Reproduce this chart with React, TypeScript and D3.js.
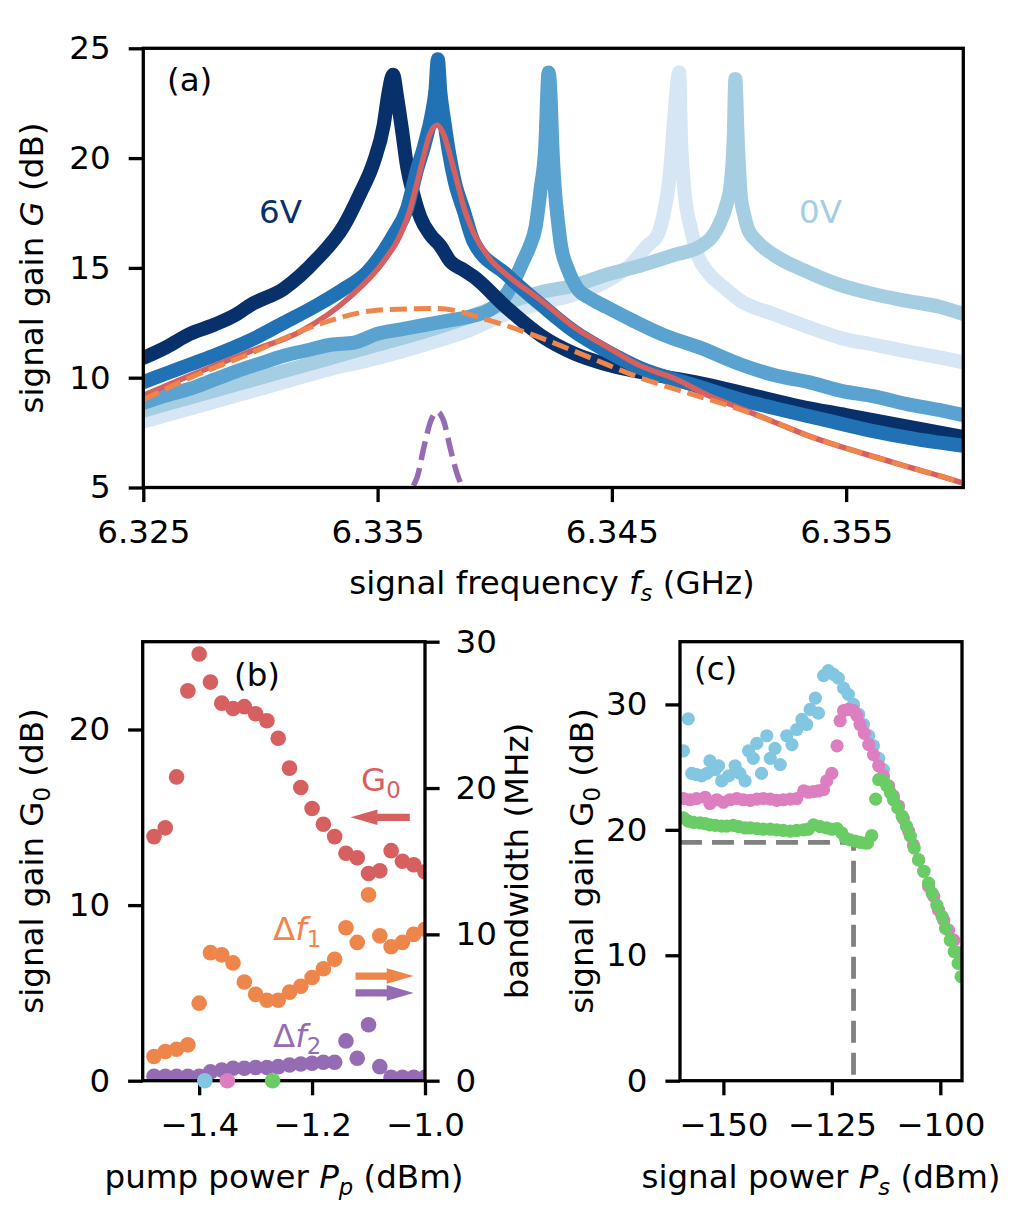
import React, { useEffect, useRef } from 'react';
import * as d3 from 'd3';

// ---- panel (a): signal gain vs signal frequency, five flux-bias settings ----
// navy = 6V ... light = 0V label colour
const freqNavy = [6.325, 6.326, 6.327, 6.328, 6.329, 6.32956, 6.331, 6.33241, 6.33355, 6.33426, 6.33483, 6.33526, 6.33547, 6.33566, 6.33583, 6.33604, 6.33626, 6.33654, 6.33683, 6.33726, 6.33768, 6.3381, 6.33868, 6.3391, 6.3405, 6.342, 6.3434, 6.3448, 6.347, 6.349, 6.351, 6.353, 6.355, 6.357, 6.359, 6.360];
const gainNavy = [10.9, 11.4, 12.0, 12.4, 12.9, 13.3, 14.05, 15.4, 16.9, 18.4, 19.8, 21.5, 23.0, 23.8, 22.8, 21.3, 19.6, 18.3, 17.3, 16.5, 16.0, 15.3, 14.9, 14.6, 13.2, 11.9, 11.1, 10.6, 10.1, 9.7, 9.2, 8.7, 8.3, 7.9, 7.5, 7.3];

const freqBlue = [6.325, 6.326, 6.327, 6.328, 6.32956, 6.331, 6.33241, 6.3335, 6.33455, 6.33568, 6.33626, 6.33669, 6.337, 6.33733, 6.33747, 6.33757, 6.33768, 6.33783, 6.33804, 6.3383, 6.33868, 6.3391, 6.3405, 6.342, 6.3434, 6.3448, 6.3462, 6.3484, 6.3505, 6.352, 6.354, 6.356, 6.358, 6.360];
const gainBlue = [9.8, 10.2, 10.6, 11.0, 11.7, 12.5, 13.3, 14.0, 14.8, 16.5, 17.7, 19.5, 20.6, 22.1, 23.1, 24.5, 23.0, 21.8, 20.3, 18.9, 17.6, 16.2, 14.7, 13.3, 12.1, 11.2, 10.45, 9.7, 9.0, 8.6, 8.1, 7.6, 7.2, 6.9];

const freqMid = [6.325, 6.326, 6.327, 6.328, 6.329, 6.330, 6.331, 6.332, 6.333, 6.334, 6.335, 6.336, 6.337, 6.338, 6.339, 6.3398, 6.3405, 6.341, 6.34125, 6.3415, 6.34175, 6.34196, 6.34215, 6.3423, 6.3424, 6.34245, 6.34255, 6.3427, 6.34283, 6.3431, 6.3435, 6.3441, 6.3448, 6.3459, 6.3472, 6.3488, 6.3505, 6.352, 6.3534, 6.3548, 6.3562, 6.3576, 6.3591, 6.360];
const gainMid = [8.85, 9.2, 9.5, 9.9, 10.3, 10.65, 11.0, 11.25, 11.5, 11.6, 12.0, 12.2, 12.4, 12.6, 12.8, 13.1, 13.8, 14.8, 15.4, 16.0, 16.9, 18.6, 20.4, 23.9, 22.4, 20.8, 18.8, 17.1, 16.0, 15.0, 14.1, 13.6, 13.2, 12.6, 11.95, 11.35, 10.6, 10.1, 9.8, 9.4, 9.15, 8.8, 8.5, 8.3];

const freqLight = [6.325, 6.327, 6.329, 6.331, 6.333, 6.335, 6.337, 6.339, 6.3405, 6.342, 6.3434, 6.3448, 6.3462, 6.3477, 6.3488, 6.3495, 6.34987, 6.35008, 6.3502, 6.35027, 6.35037, 6.3505, 6.35065, 6.3508, 6.3512, 6.3519, 6.3534, 6.3548, 6.3562, 6.3576, 6.3591, 6.360];
const gainLight = [8.5, 9.1, 9.7, 10.3, 10.9, 11.5, 12.1, 12.8, 13.4, 13.9, 14.2, 14.7, 15.1, 15.6, 16.0, 16.8, 17.8, 18.9, 20.9, 23.6, 20.9, 18.3, 17.4, 16.8, 16.2, 15.6, 14.8, 14.2, 13.8, 13.5, 13.2, 12.9];

const freqPale = [6.325, 6.327, 6.329, 6.331, 6.333, 6.335, 6.337, 6.339, 6.3405, 6.342, 6.3434, 6.3448, 6.34595, 6.3465, 6.34695, 6.3472, 6.34745, 6.34766, 6.34787, 6.34795, 6.34809, 6.34837, 6.34866, 6.3491, 6.3498, 6.3505, 6.3519, 6.3534, 6.3548, 6.3562, 6.3576, 6.3591, 6.360];
const gainPale = [8.0, 8.6, 9.2, 9.8, 10.4, 10.9, 11.5, 12.2, 12.9, 13.4, 13.8, 14.4, 15.3, 16.0, 16.5, 17.4, 19.0, 21.8, 23.9, 20.9, 18.6, 16.8, 15.6, 14.8, 14.1, 13.5, 12.9, 12.3, 11.8, 11.5, 11.2, 10.9, 10.7];

// fits
const freqFit = [6.325, 6.327, 6.32956, 6.3317, 6.33384, 6.33526, 6.33597, 6.3364, 6.33669, 6.33697, 6.3372, 6.33754, 6.33785, 6.3381, 6.3384, 6.3387, 6.3391, 6.3398, 6.3405, 6.342, 6.3434, 6.3448, 6.3462, 6.3477, 6.3491, 6.3505, 6.352, 6.3534, 6.3548, 6.3562, 6.3576, 6.3591, 6.360];
const gainFit = [9.2, 10.1, 11.2, 12.1, 13.7, 15.3, 16.5, 17.7, 18.9, 20.1, 21.0, 21.5, 21.0, 20.1, 18.9, 17.7, 16.6, 15.4, 14.7, 13.5, 12.3, 11.4, 10.55, 9.95, 9.2, 8.6, 7.95, 7.35, 6.85, 6.4, 5.95, 5.5, 5.2];

const freqBroad = [6.325, 6.327, 6.32956, 6.33241, 6.33526, 6.33754, 6.3398, 6.342, 6.3441, 6.3462, 6.3484, 6.3505, 6.352, 6.3534, 6.3548, 6.3562, 6.3576, 6.3591, 6.360];
const gainBroad = [9.0, 10.0, 11.1, 12.4, 13.1, 13.15, 12.6, 11.8, 10.9, 10.0, 9.25, 8.55, 7.95, 7.35, 6.85, 6.4, 5.95, 5.5, 5.2];

const freqNarrow = [6.3362, 6.33657, 6.33669, 6.33697, 6.33726, 6.33754, 6.33783, 6.3381, 6.3384, 6.33854, 6.3389];
const gainNarrow = [3.9, 5.17, 5.47, 6.8, 8.0, 8.45, 8.0, 6.8, 5.6, 5.2, 3.9];

// ---- panel (b): vs pump power ----
const pumpPower = [-1.48, -1.46, -1.44, -1.42, -1.40, -1.38, -1.36, -1.34, -1.32, -1.30, -1.28, -1.26, -1.24, -1.22, -1.20, -1.18, -1.16, -1.14, -1.12, -1.10, -1.08, -1.06, -1.04, -1.02, -1.00];
const gainG0 = [13.9, 14.4, 17.3, 22.2, 24.3, 22.7, 21.5, 21.2, 21.3, 20.9, 20.5, 19.5, 17.8, 16.7, 15.5, 14.6, 13.9, 12.95, 12.7, 11.8, 11.95, 13.1, 12.5, 12.3, 11.9];
const bandwidth1 = [1.65, 2.0, 2.15, 2.45, 5.3, 8.75, 8.6, 8.05, 6.75, 5.9, 5.5, 5.5, 6.05, 6.45, 7.05, 7.65, 8.3, 10.45, 9.45, 12.7, 9.9, 9.15, 9.45, 10.0, 10.35];
const bandwidth2 = [0.3, 0.3, 0.3, 0.3, 0.3, 0.6, 0.73, 0.85, 0.85, 0.9, 0.9, 0.96, 1.07, 1.14, 1.19, 1.26, 1.26, 2.72, 1.53, 3.82, 0.96, 0.23, 0.23, 0.23, 0.23];
const pumpMarks = [-1.39, -1.35, -1.27];

// ---- panel (c): vs signal power, one series per marked pump power ----
const sigPowBlue = [-159.2, -158.1, -157.3, -156.2, -155.0, -153.8, -153.1, -151.9, -151.1, -150.4, -148.8, -147.3, -146.2, -145.0, -144.2, -143.1, -142.3, -141.2, -140.0, -139.2, -138.1, -136.9, -135.4, -134.2, -133.1, -131.9, -130.8, -130.0, -128.8, -128.1, -126.9, -125.8, -124.6, -123.5, -122.3, -121.2, -120.0, -118.8, -117.7, -116.5, -115.4, -114.2, -113.1];
const gainCBlue = [26.3, 28.85, 24.5, 24.4, 24.3, 24.5, 25.5, 24.8, 25.1, 23.9, 24.3, 25.1, 24.5, 23.9, 26.3, 25.7, 26.9, 24.5, 27.5, 25.7, 26.5, 25.2, 27.5, 26.8, 28.0, 28.8, 28.4, 29.6, 30.5, 29.3, 32.3, 32.7, 32.4, 32.1, 31.3, 30.8, 30.0, 29.2, 28.4, 27.5, 26.7, 25.7, 24.8];
const sigPowPink = [-159.2, -157.7, -156.2, -154.2, -153.1, -151.5, -150.0, -148.5, -146.9, -145.4, -143.8, -142.3, -140.8, -139.2, -137.7, -136.2, -134.6, -133.1, -131.5, -130.4, -129.2, -128.1, -126.9, -126.2, -125.0, -123.8, -123.1, -122.3, -121.2, -120.0, -119.2, -118.5, -117.5, -116.5, -115.4, -114.2, -113.1, -111.9, -110.8, -109.6, -108.5, -107.3, -106.2, -105.0, -103.8, -102.7, -101.5, -100.4, -99.2, -98.1, -96.9, -95.9, -95.0];
const gainCPink = [22.5, 22.4, 22.5, 22.6, 22.1, 22.4, 22.2, 22.4, 22.5, 22.4, 22.35, 22.45, 22.5, 22.45, 22.35, 22.4, 22.45, 22.5, 23.1, 23.0, 23.05, 23.1, 23.2, 23.9, 24.5, 26.7, 28.7, 29.5, 29.6, 29.5, 29.1, 28.4, 27.7, 26.8, 26.0, 25.1, 24.3, 23.5, 22.7, 21.9, 20.9, 19.9, 18.8, 17.6, 16.7, 15.5, 14.7, 13.6, 12.8, 12.0, 11.2, 10.2, 9.4];
const sigPowGreen = [-159.2, -158.1, -156.9, -155.4, -154.2, -153.1, -151.9, -150.4, -149.2, -147.7, -146.5, -145.0, -143.8, -142.3, -140.8, -139.2, -137.7, -136.2, -134.6, -133.1, -131.5, -130.4, -129.2, -127.7, -126.2, -125.0, -123.8, -122.7, -121.9, -120.8, -119.6, -118.5, -117.3, -116.8, -115.8, -114.9, -114.2, -113.1, -112.3, -111.5, -110.8, -109.8, -108.8, -107.8, -106.9, -106.0, -105.0, -103.8, -102.7, -101.9, -100.8, -99.6, -98.8, -97.7, -96.8, -95.9, -95.2];
const gainCGreen = [20.95, 20.7, 20.6, 20.55, 20.5, 20.4, 20.35, 20.3, 20.3, 20.35, 20.25, 20.15, 20.15, 20.1, 20.05, 20.05, 20.0, 19.95, 19.9, 19.95, 20.0, 20.05, 20.4, 20.25, 20.15, 20.05, 20.1, 19.75, 19.35, 19.2, 19.1, 19.0, 18.95, 18.95, 19.55, 22.45, 24.0, 23.9, 23.5, 22.95, 22.4, 21.75, 21.1, 20.3, 19.5, 18.55, 17.6, 16.7, 15.75, 14.95, 14.0, 13.1, 12.15, 11.2, 10.3, 9.35, 8.3];
const thresholdGain = 19;
const thresholdPower = -120;

const FONT = "'DejaVu Sans', sans-serif";
const FS = 32.5;
const LW = 3.3;
const TICK = 14.6;
const C = {
  navy: '#08306b', blue: '#2171b5', mid: '#5aa2cf', light: '#a6cee3', pale: '#d6e6f4',
  red: '#d65f5f', orange: '#ee854a', purple: '#956cb4',
  sky: '#82c6e2', pink: '#dc7ec0', green: '#6acc64', gray: '#808080',
};

type Part = { t: string; it?: boolean; sub?: boolean };

function rich(g: any, x: number, y: number, parts: Part[], fill = '#000', anchor = 'start', rotate = 0) {
  const t = g.append('text')
    .attr('font-family', FONT).attr('font-size', FS).attr('fill', fill)
    .attr('text-anchor', anchor).style('white-space', 'pre')
    .attr('transform', `translate(${x},${y})${rotate ? ` rotate(${rotate})` : ''}`);
  let down = false;
  parts.forEach(p => {
    const s = t.append('tspan').text(p.t);
    if (p.it) s.attr('font-style', 'italic');
    if (p.sub) {
      s.attr('font-size', FS * 0.7);
      if (!down) { s.attr('dy', 7); down = true; }
    } else if (down) { s.attr('dy', -7); down = false; }
  });
}

function axis(g: any, ax: any, tr: string) {
  const a = g.append('g').attr('transform', tr).call(ax);
  a.attr('font-size', FS).attr('font-family', FONT);
  a.select('.domain').remove();
  a.selectAll('.tick line').attr('stroke', '#000').attr('stroke-width', LW);
  a.selectAll('.tick text').attr('fill', '#000');
  return a;
}

function frame(g: any, x0: number, x1: number, y0: number, y1: number) {
  g.append('rect').attr('x', x0).attr('y', y0).attr('width', x1 - x0).attr('height', y1 - y0)
    .attr('fill', 'none').attr('stroke', '#000').attr('stroke-width', LW);
}

function clip(svg: any, id: string, x0: number, x1: number, y0: number, y1: number) {
  svg.append('defs').append('clipPath').attr('id', id).append('rect')
    .attr('x', x0).attr('y', y0).attr('width', x1 - x0).attr('height', y1 - y0);
  return svg.append('g').attr('clip-path', `url(#${id})`);
}

function drawA(svg: any) {
  const L = 143.3, R = 963.3, T = 48.3, B = 487.5;
  const x = d3.scaleLinear().domain([6.325, 6.360]).range([L, R]);
  const y = d3.scaleLinear().domain([5, 25]).range([B, T]);
  const g = clip(svg, 'clipA', L, R, T, B);
  const line = d3.line<number>().curve(d3.curveMonotoneX);

  const bands: [number[], number[], string][] = [
    [freqPale, gainPale, C.pale],
    [freqLight, gainLight, C.light],
    [freqMid, gainMid, C.mid],
    [freqNavy, gainNavy, C.navy],
    [freqBlue, gainBlue, C.blue],
  ];
  bands.forEach(([fs, gs, col]) => {
    const pts = fs.map((f, i) => [x(f), y(gs[i])] as [number, number]);
    g.append('path').attr('d', (line as any)(pts)).attr('fill', 'none').attr('stroke', col)
      .attr('stroke-width', 14).attr('stroke-linejoin', 'round').attr('stroke-linecap', 'round');
    g.selectAll(null).data(pts).enter().append('circle')
      .attr('cx', (d: any) => d[0]).attr('cy', (d: any) => d[1]).attr('r', 5).attr('fill', col);
  });

  const fits: [number[], number[], string, number, string | null][] = [
    [freqFit, gainFit, C.red, 5.5, null],
    [freqBroad, gainBroad, C.orange, 5, '17,7'],
    [freqNarrow, gainNarrow, C.purple, 5.5, '19,8'],
  ];
  fits.forEach(([fs, gs, col, w, dash]) => {
    const pts = fs.map((f, i) => [x(f), y(gs[i])] as [number, number]);
    const p = g.append('path').attr('d', (line as any)(pts)).attr('fill', 'none')
      .attr('stroke', col).attr('stroke-width', w);
    if (dash) p.attr('stroke-dasharray', dash);
  });

  frame(svg, L, R, T, B);
  axis(svg, d3.axisBottom(x).tickValues([6.325, 6.335, 6.345, 6.355]).tickFormat(d3.format('.3f'))
    .tickSize(TICK).tickPadding(18), `translate(0,${B})`);
  axis(svg, d3.axisLeft(y).tickValues([5, 10, 15, 20, 25]).tickFormat(d3.format('d'))
    .tickSize(TICK).tickPadding(18), `translate(${L},0)`);

  rich(svg, 167, 91, [{ t: '(a)' }]);
  rich(svg, 259, 223, [{ t: '6V' }], C.navy);
  rich(svg, 799, 223, [{ t: '0V' }], C.light);
  rich(svg, 552, 594, [{ t: 'signal frequency ' }, { t: 'f', it: true }, { t: 's', it: true, sub: true }, { t: ' (GHz)' }], '#000', 'middle');
  rich(svg, 43, 268, [{ t: 'signal gain ' }, { t: 'G', it: true }, { t: ' (dB)' }], '#000', 'middle', -90);
}

function arrow(g: any, tipX: number, tailX: number, yy: number, col: string) {
  const dir = tipX < tailX ? 1 : -1;
  const hl = 27, hw = 7.8, sw = 3.6;
  const bx = tipX + dir * hl;
  const pts = [[tipX, yy], [bx, yy - hw], [bx, yy - sw], [tailX, yy - sw], [tailX, yy + sw], [bx, yy + sw], [bx, yy + hw]];
  g.append('polygon').attr('points', pts.map(p => p.join(',')).join(' ')).attr('fill', col);
}

function drawB(svg: any) {
  const L = 142.7, R = 425, T = 641.7, B = 1080.7;
  const x = d3.scaleLinear().domain([-1.5, -1.0]).range([L, R]);
  const yl = d3.scaleLinear().domain([0, 25]).range([B, T]);
  const yr = d3.scaleLinear().domain([0, 30]).range([B, T]);
  const g = clip(svg, 'clipB', L, R, T, B);
  const series: [number[], any, string][] = [
    [gainG0, yl, C.red], [bandwidth1, yr, C.orange], [bandwidth2, yr, C.purple],
  ];
  series.forEach(([vals, ys, col]) => {
    g.selectAll(null).data(vals).enter().append('circle')
      .attr('cx', (_: number, i: number) => x(pumpPower[i])).attr('cy', (d: number) => ys(d))
      .attr('r', 7.8).attr('fill', col);
  });

  arrow(svg, x(-1.132), x(-1.027), yl(15.0), C.red);
  arrow(svg, x(-1.020), x(-1.123), yr(7.15), C.orange);
  arrow(svg, x(-1.020), x(-1.123), yr(6.0), C.purple);

  frame(svg, L, R, T, B);
  const fmt = d3.format('.1f');
  axis(svg, d3.axisBottom(x).tickValues([-1.4, -1.2, -1.0]).tickFormat(fmt as any)
    .tickSize(TICK).tickPadding(18), `translate(0,${B})`);
  axis(svg, d3.axisLeft(yl).tickValues([0, 10, 20]).tickFormat(d3.format('d'))
    .tickSize(TICK).tickPadding(18), `translate(${L},0)`);
  axis(svg, d3.axisRight(yr).tickValues([0, 10, 20, 30]).tickFormat(d3.format('d'))
    .tickSize(TICK).tickPadding(16), `translate(${R},0)`);

  [C.sky, C.pink, C.green].forEach((col, i) => {
    svg.append('circle').attr('cx', x(pumpMarks[i])).attr('cy', yl(0)).attr('r', 7.8).attr('fill', col);
  });

  rich(svg, 234, 686, [{ t: '(b)' }]);
  rich(svg, 361, 791, [{ t: 'G' }, { t: '0', sub: true }], C.red);
  rich(svg, 273, 940, [{ t: 'Δ' }, { t: 'f', it: true }, { t: '1', sub: true }], C.orange);
  rich(svg, 273, 1047, [{ t: 'Δ' }, { t: 'f', it: true }, { t: '2', sub: true }], C.purple);
  rich(svg, 284, 1188, [{ t: 'pump power ' }, { t: 'P', it: true }, { t: 'p', it: true, sub: true }, { t: ' (dBm)' }], '#000', 'middle');
  rich(svg, 43, 861, [{ t: 'signal gain G' }, { t: '0', sub: true }, { t: ' (dB)' }], '#000', 'middle', -90);
  rich(svg, 528, 861, [{ t: 'bandwidth (MHz)' }], '#000', 'middle', -90);
}

function drawC(svg: any) {
  const L = 680, R = 962, T = 641.7, B = 1080.7;
  const x = d3.scaleLinear().domain([-160, -95]).range([L, R]);
  const y = d3.scaleLinear().domain([0, 35]).range([B, T]);
  const g = clip(svg, 'clipC', L, R, T, B);

  g.append('path')
    .attr('d', `M${x(-160)},${y(thresholdGain)}L${x(thresholdPower)},${y(thresholdGain)}L${x(thresholdPower)},${y(0)}`)
    .attr('fill', 'none').attr('stroke', C.gray).attr('stroke-width', 4.8).attr('stroke-dasharray', '22,10');

  const series: [number[], number[], string][] = [
    [sigPowBlue, gainCBlue, C.sky], [sigPowPink, gainCPink, C.pink], [sigPowGreen, gainCGreen, C.green],
  ];
  series.forEach(([xs, ys, col]) => {
    g.selectAll(null).data(ys).enter().append('circle')
      .attr('cx', (_: number, i: number) => x(xs[i])).attr('cy', (d: number) => y(d))
      .attr('r', 6.6).attr('fill', col);
  });

  frame(svg, L, R, T, B);
  axis(svg, d3.axisBottom(x).tickValues([-150, -125, -100]).tickFormat(d3.format('d'))
    .tickSize(TICK).tickPadding(18), `translate(0,${B})`);
  axis(svg, d3.axisLeft(y).tickValues([0, 10, 20, 30]).tickFormat(d3.format('d'))
    .tickSize(TICK).tickPadding(18), `translate(${L},0)`);

  rich(svg, 694, 680, [{ t: '(c)' }]);
  rich(svg, 821, 1188, [{ t: 'signal power ' }, { t: 'P', it: true }, { t: 's', it: true, sub: true }, { t: ' (dBm)' }], '#000', 'middle');
  rich(svg, 593, 861, [{ t: 'signal gain G' }, { t: '0', sub: true }, { t: ' (dB)' }], '#000', 'middle', -90);
}

export default function App() {
  const ref = useRef<SVGSVGElement>(null);
  useEffect(() => {
    document.body.style.margin = '0';
    const svg = d3.select(ref.current);
    svg.selectAll('*').remove();
    drawA(svg);
    drawB(svg);
    drawC(svg);
  }, []);
  return (
    <svg ref={ref} width={1012} height={1215}
      style={{ display: 'block', position: 'absolute', left: 0, top: 0, background: '#fff' }} />
  );
}
